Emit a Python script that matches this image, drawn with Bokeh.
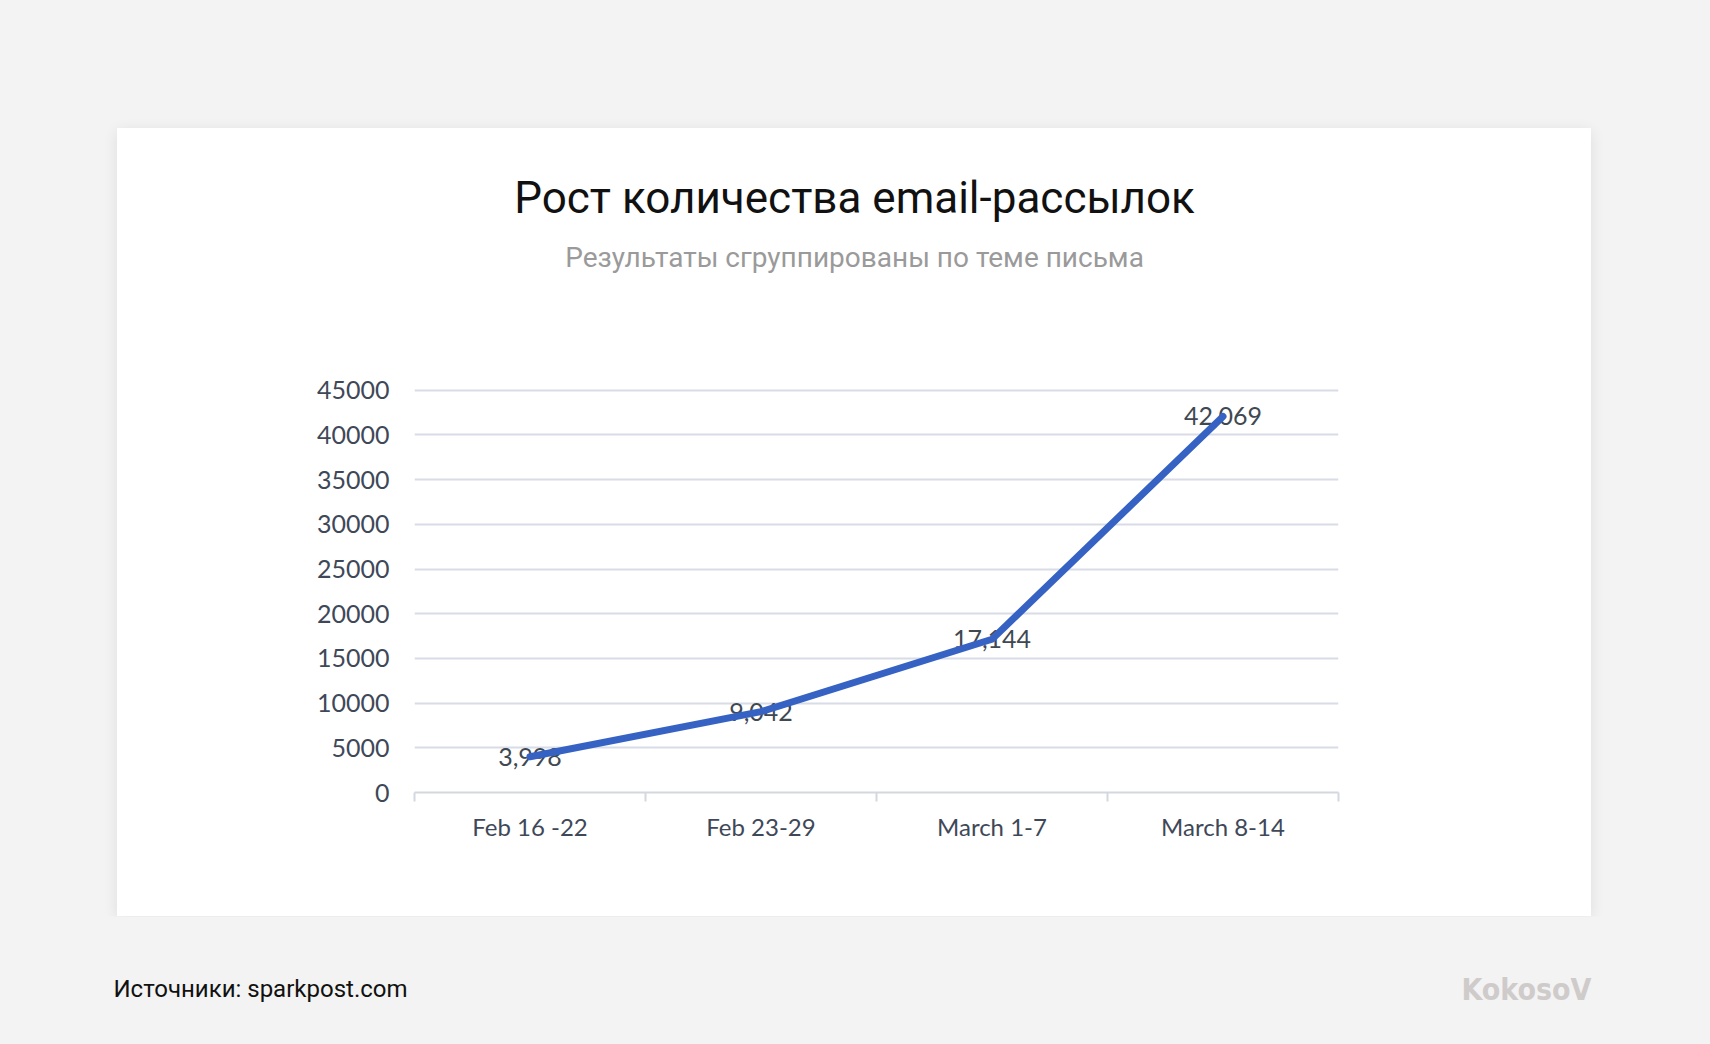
from bokeh.plotting import figure
from bokeh.models import (Range1d, FixedTicker, ColumnDataSource, Spacer)
from bokeh.layouts import column, row
from bokeh.core.properties import value
from bokeh.embed import file_html
from bokeh.resources import INLINE

# ---- data ----
categories = ["Feb 16 -22", "Feb 23-29", "March 1-7", "March 8-14"]
emails = [3998, 9042, 17144, 42069]
y_ticks = [0, 5000, 10000, 15000, 20000, 25000, 30000, 35000, 40000, 45000]
title_text = "Рост количества email-рассылок"
subtitle_text = "Результаты сгруппированы по теме письма"
source_text = "Источники: sparkpost.com"
brand_text = "KokosoV"

x_pos = [i + 0.5 for i in range(len(categories))]
labels = ["{:,}".format(v) for v in emails]

CARD_W, CARD_H = 1474, 788
HEAD_H = 200
CH_H = CARD_H - HEAD_H
FL, FR, FT, FB = 297, 253, 60, 124

# ---- header (title + subtitle) ----
h = figure(width=CARD_W, height=HEAD_H, output_backend="svg", toolbar_location=None,
           x_range=Range1d(0, CARD_W), y_range=Range1d(HEAD_H, 0),
           min_border=0, x_axis_type=None, y_axis_type=None)
h.background_fill_color = "white"
h.border_fill_color = "white"
h.outline_line_color = None
h.grid.visible = False
HX = CARD_W / 2 - 35
h.text(x=[HX], y=[69], text=[title_text], text_align="center", text_baseline="middle",
       text_font=value("Roboto"), text_font_size="44px", text_color="#111111")
h.text(x=[HX], y=[129], text=[subtitle_text], text_align="center", text_baseline="middle",
       text_font=value("Roboto"), text_font_size="28px", text_color="#9a9a9a")

# ---- chart ----
p = figure(width=CARD_W, height=CH_H, output_backend="svg", toolbar_location=None,
           x_range=Range1d(0, len(categories)), y_range=Range1d(0, 45200),
           min_border_left=FL, min_border_right=FR, min_border_top=FT, min_border_bottom=FB)
p.background_fill_color = "white"
p.border_fill_color = "white"
p.outline_line_color = None

TICK_FONT = "Lato"
TICK_COLOR = "#3e4858"

p.yaxis.ticker = FixedTicker(ticks=y_ticks)
p.yaxis.axis_line_color = None
p.yaxis.major_tick_line_color = None
p.yaxis.minor_tick_line_color = None
p.yaxis.major_label_text_font = TICK_FONT
p.yaxis.major_label_text_font_size = "25px"
p.yaxis.major_label_text_color = TICK_COLOR
p.yaxis.major_label_standoff = 19

p.xaxis.ticker = FixedTicker(ticks=x_pos, minor_ticks=list(range(len(categories) + 1)))
p.xaxis.major_label_overrides = {x: c for x, c in zip(x_pos, categories)}
p.xaxis.axis_line_color = "#d3d8e0"
p.xaxis.axis_line_width = 2
p.xaxis.major_tick_line_color = None
p.xaxis.major_tick_out = 0
p.xaxis.major_tick_in = 0
p.xaxis.minor_tick_line_color = "#d3d8e0"
p.xaxis.minor_tick_line_width = 2
p.xaxis.minor_tick_out = 9
p.xaxis.minor_tick_in = 0
p.xaxis.major_label_text_font = TICK_FONT
p.xaxis.major_label_text_font_size = "24px"
p.xaxis.major_label_text_color = TICK_COLOR
p.xaxis.major_label_standoff = 10

p.xgrid.grid_line_color = None
p.ygrid.ticker = FixedTicker(ticks=y_ticks)
p.ygrid.grid_line_color = "#d7dce6"
p.ygrid.grid_line_width = 2

src = ColumnDataSource(dict(x=x_pos, y=emails, label=labels))
p.text(x="x", y="y", text="label", source=src, text_align="center", text_baseline="middle",
       text_font=value(TICK_FONT), text_font_size="25px", text_color="#404852")
p.line(x="x", y="y", source=src, line_color="#3663c3", line_width=7, line_join="round", line_cap="round")

card = column(h, p)
card.styles = {"box-shadow": "0 3px 14px rgba(0,0,0,0.09)", "background-color": "white"}

# ---- footer ----
FOOT_W, FOOT_H = 1694, 120
f = figure(width=FOOT_W, height=FOOT_H, output_backend="svg", toolbar_location=None,
           x_range=Range1d(0, FOOT_W), y_range=Range1d(FOOT_H, 0),
           min_border=0, x_axis_type=None, y_axis_type=None)
f.background_fill_color = "#f3f3f3"
f.border_fill_color = "#f3f3f3"
f.outline_line_color = None
f.grid.visible = False
f.text(x=[105], y=[72], text=[source_text], text_align="left", text_baseline="middle",
       text_font=value("Roboto"), text_font_size="24px", text_color="#111111")
f.text(x=[1583], y=[73], text=[brand_text], text_align="right", text_baseline="middle",
       text_font=value("DejaVu Sans Condensed"), text_font_size="30px", text_font_style="bold",
       text_color="#d0cbcb")

inner = column(Spacer(height=120), row(Spacer(width=109), card), f)
layout = row(Spacer(width=8), column(Spacer(height=8), inner))
layout.styles = {"background-color": "#f3f3f3"}

html = file_html(layout, INLINE)
html = html.replace("<head>", "<head><style>html,body{background:#f3f3f3;}</style>", 1)
open("out.html", "w").write(html)
